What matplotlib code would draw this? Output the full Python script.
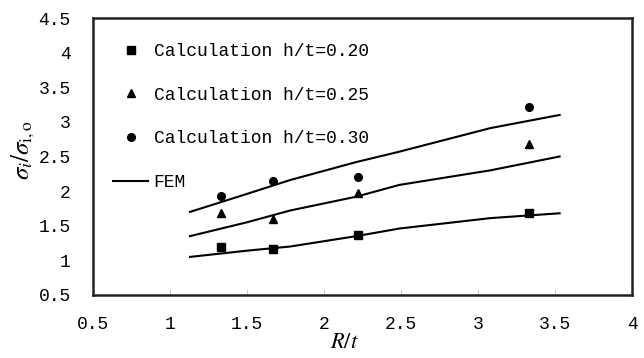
import matplotlib.pyplot as plt

plt.rcParams['mathtext.fontset'] = 'stix'

# Data
rt_calc = [1.333, 1.667, 2.222, 3.333]
calc_020 = [1.20, 1.16, 1.37, 1.69]
calc_025 = [1.68, 1.60, 1.98, 2.68]
calc_030 = [1.93, 2.15, 2.21, 3.22]

fem_rt = [1.13, 1.50, 1.78, 2.21, 2.49, 3.08, 3.53]
fem_020 = [1.05, 1.14, 1.20, 1.35, 1.46, 1.61, 1.68]
fem_025 = [1.35, 1.55, 1.72, 1.92, 2.09, 2.30, 2.50]
fem_030 = [1.70, 1.96, 2.16, 2.42, 2.57, 2.91, 3.10]

xticks = [0.5, 1, 1.5, 2, 2.5, 3, 3.5, 4]
yticks = [0.5, 1, 1.5, 2, 2.5, 3, 3.5, 4, 4.5]

mono = 'Liberation Mono'

fig = plt.figure(figsize=(6.44, 3.58), dpi=100)
ax = fig.add_axes([0.1444, 0.176, 0.8370, 0.7737])

ms = 5.5
h1, = ax.plot(rt_calc, calc_020, 's', color='black', markersize=ms, label='Calculation h/t=0.20')
h2, = ax.plot(rt_calc, calc_025, '^', color='black', markersize=ms + 0.5, label='Calculation h/t=0.25')
h3, = ax.plot(rt_calc, calc_030, 'o', color='black', markersize=ms, label='Calculation h/t=0.30')
h4, = ax.plot(fem_rt, fem_020, '-', color='black', linewidth=1.5, label='FEM')
ax.plot(fem_rt, fem_025, '-', color='black', linewidth=1.5)
ax.plot(fem_rt, fem_030, '-', color='black', linewidth=1.5)

ax.set_xlim(0.5, 4)
ax.set_ylim(0.5, 4.5)
ax.set_xticks(xticks)
ax.set_yticks(yticks)
ax.set_xticklabels([f'{v:g}' for v in xticks], fontfamily=mono, fontsize=13)
ax.set_yticklabels([f'{v:g}' for v in yticks], fontfamily=mono, fontsize=13)
ax.tick_params(axis='x', direction='in', length=4, width=0.8, color='#cccccc', pad=15)
ax.tick_params(axis='y', length=0, pad=16)

for s in ax.spines.values():
    s.set_linewidth(1.8)
    s.set_color('#222222')

ax.set_xlabel('$R/t$', fontsize=16)
ax.xaxis.set_label_coords(0.467, -0.135)
ax.set_ylabel(r'$\sigma_{i}/\sigma_{\mathrm{i,o}}$', fontsize=18)
ax.yaxis.set_label_coords(-0.104, 0.523)

ax.legend(handles=[h1, h2, h3, h4], loc='upper left', bbox_to_anchor=(0.037, 0.91),
          frameon=False, prop={'family': mono, 'size': 13}, handlelength=1.95,
          handletextpad=0.3, labelspacing=1.48, borderpad=0, borderaxespad=0)

plt.savefig('out.png', dpi=100)
